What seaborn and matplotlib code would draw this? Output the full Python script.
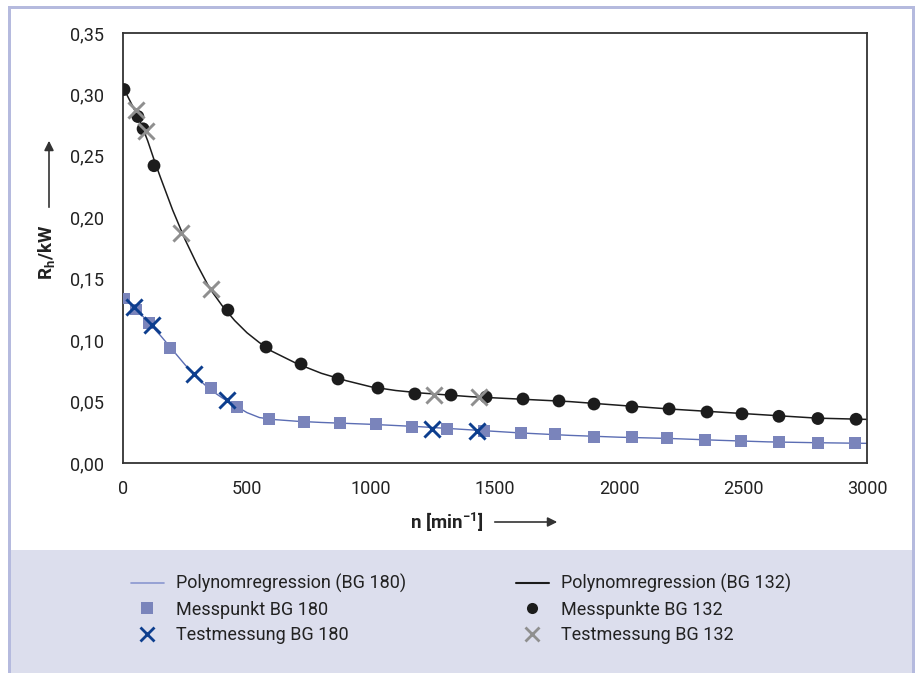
import numpy as np
import pandas as pd
import matplotlib
matplotlib.use("Agg")
import matplotlib.pyplot as plt
from matplotlib.lines import Line2D
from matplotlib.patches import Rectangle, FancyArrowPatch
import seaborn as sns

# Messpunkte BG 132 (n in 1/min, Rh in kW)
n_mess_132 = [4, 60, 81, 125, 423, 577, 718, 867, 1028, 1177, 1323, 1464, 1613,
              1758, 1899, 2052, 2202, 2355, 2496, 2645, 2802, 2956]
rh_mess_132 = [0.304, 0.282, 0.272, 0.242, 0.1245, 0.0944, 0.0806, 0.0684, 0.0610,
               0.0562, 0.0553, 0.0537, 0.0521, 0.0505, 0.0480, 0.0456, 0.0440,
               0.0415, 0.0400, 0.0380, 0.0362, 0.0356]

# Testmessung BG 132
n_test_132 = [52, 93, 234, 355, 1254, 1435]
rh_test_132 = [0.287, 0.270, 0.187, 0.142, 0.0553, 0.0537]

# Messpunkt BG 180
n_mess_180 = [4, 52, 105, 190, 355, 460, 589, 730, 875, 1020, 1165, 1306, 1456,
              1605, 1742, 1899, 2052, 2194, 2347, 2492, 2645, 2802, 2952]
rh_mess_180 = [0.134, 0.125, 0.114, 0.0936, 0.061, 0.0456, 0.0358, 0.0334, 0.0326,
               0.0317, 0.0293, 0.0277, 0.026, 0.0244, 0.0236, 0.0212, 0.0212,
               0.0204, 0.0187, 0.0179, 0.0171, 0.0163, 0.0163]

# Testmessung BG 180
n_test_180 = [44, 117, 286, 419, 1246, 1427]
rh_test_180 = [0.127, 0.112, 0.0724, 0.0513, 0.0277, 0.026]

# Polynomregression
n_reg_132 = [0, 25, 50, 75, 100, 125, 150, 200, 250, 300, 350, 400, 450, 500, 550,
             600, 700, 800, 900, 1000, 1100, 1200, 1300, 1400, 1600, 1800, 2000,
             2200, 2400, 2600, 2800, 3000]
rh_reg_132 = [0.306, 0.296, 0.286, 0.275, 0.262, 0.247, 0.233, 0.206, 0.182, 0.161,
              0.142, 0.128, 0.116, 0.106, 0.098, 0.091, 0.081, 0.073, 0.067, 0.062,
              0.059, 0.057, 0.0555, 0.054, 0.052, 0.050, 0.047, 0.044, 0.0415,
              0.039, 0.0365, 0.0355]

n_reg_180 = [0, 50, 100, 150, 200, 250, 300, 350, 400, 450, 500, 550, 600, 700, 800,
             1000, 1200, 1400, 1600, 1800, 2000, 2200, 2400, 2600, 2800, 3000]
rh_reg_180 = [0.135, 0.126, 0.115, 0.104, 0.092, 0.080, 0.069, 0.060, 0.053, 0.047,
              0.041, 0.037, 0.0355, 0.034, 0.033, 0.0315, 0.0295, 0.027, 0.0245,
              0.0225, 0.021, 0.020, 0.0185, 0.0172, 0.0165, 0.016]

y_ticks = [0.0, 0.05, 0.10, 0.15, 0.20, 0.25, 0.30, 0.35]
x_ticks = [0, 500, 1000, 1500, 2000, 2500, 3000]

c_sq = "#7a84bb"
c_xblue = "#0d3e8e"
c_xgrey = "#8f8f8f"
c_line180 = "#5b6db3"
c_black = "#1c1c1c"
c_frame = "#b5bade"
c_bottom = "#dcdeed"
c_text = "#222222"

sns.set_style("white")
plt.rcParams["font.family"] = ["Roboto", "DejaVu Sans"]
plt.rcParams["mathtext.fontset"] = "custom"
plt.rcParams["mathtext.rm"] = "Roboto"
plt.rcParams["mathtext.bf"] = "Roboto:bold"

fig = plt.figure(figsize=(9.17, 6.73), dpi=100)
W, H = 917, 673

# Hintergrund: Rahmen, weisser Bereich, Legendenfeld
fig.patches.append(Rectangle((0, 0), 1, 1, transform=fig.transFigure,
                             facecolor="white", edgecolor="none", zorder=-3))
fig.patches.append(Rectangle((8 / W, 0), (915 - 8) / W, 1 - 6 / H,
                             transform=fig.transFigure, facecolor=c_frame,
                             edgecolor="none", zorder=-2))
fig.patches.append(Rectangle((11 / W, 1 - 550 / H), (912 - 11) / W, (550 - 9) / H,
                             transform=fig.transFigure, facecolor="white",
                             edgecolor="none", zorder=-1))
fig.patches.append(Rectangle((11 / W, 0), (912 - 11) / W, 1 - 550 / H,
                             transform=fig.transFigure, facecolor=c_bottom,
                             edgecolor="none", zorder=-1))

ax = fig.add_axes([123 / W, 1 - 463 / H, (867 - 123) / W, (463 - 33) / H])
ax.set_facecolor("white")

sns.lineplot(x=n_reg_180, y=rh_reg_180, ax=ax, color=c_line180, linewidth=1.0,
             sort=True, zorder=2)
sns.lineplot(x=n_reg_132, y=rh_reg_132, ax=ax, color=c_black, linewidth=1.1,
             sort=True, zorder=2)
sns.scatterplot(x=n_mess_180, y=rh_mess_180, ax=ax, marker="s", s=66, color=c_sq,
                edgecolor="none", linewidth=0, zorder=3)
sns.scatterplot(x=n_mess_132, y=rh_mess_132, ax=ax, marker="o", s=85, color=c_black,
                edgecolor="none", linewidth=0, zorder=3)
sns.scatterplot(x=n_test_180, y=rh_test_180, ax=ax, marker="x", s=135, color=c_xblue,
                linewidth=2.1, zorder=4)
sns.scatterplot(x=n_test_132, y=rh_test_132, ax=ax, marker="x", s=135, color=c_xgrey,
                linewidth=2.1, zorder=4)

ax.set_xlim(0, 3000)
ax.set_ylim(0, 0.35)
ax.set_xticks(x_ticks)
ax.set_yticks(y_ticks)
ax.set_xticklabels([str(v) for v in x_ticks])
ax.set_yticklabels([f"{v:.2f}".replace(".", ",") for v in y_ticks])
ax.tick_params(axis="both", length=0, labelsize=13, colors=c_text)
ax.tick_params(axis="x", pad=12)
ax.tick_params(axis="y", pad=14)
for sp in ax.spines.values():
    sp.set_color("#333333")
    sp.set_linewidth(1.3)
ax.set_xlabel("")
ax.set_ylabel("")

# Achsentitel mit Pfeilen
fig.text(47 / W, 1 - 252 / H, r"R$_\mathbf{h}$/kW", rotation=90, ha="center",
         va="center", fontsize=13.5, fontweight="bold", color=c_text)
fig.add_artist(FancyArrowPatch(
    (49 / W, 1 - 210 / H), (49 / W, 1 - 138 / H), transform=fig.transFigure,
    arrowstyle="-|>", mutation_scale=14, color="#333333", linewidth=1.2))
fig.text(484 / W, 1 - 522 / H, r"n [min$^{\mathbf{-1}}$]", ha="right", va="center",
         fontsize=13.5, fontweight="bold", color=c_text)
fig.add_artist(FancyArrowPatch(
    (492 / W, 1 - 522 / H), (560 / W, 1 - 522 / H), transform=fig.transFigure,
    arrowstyle="-|>", mutation_scale=14, color="#333333", linewidth=1.2))

# Legende in zwei Spalten
h180 = [
    Line2D([], [], color="#8a97cf", linewidth=1.2),
    Line2D([], [], marker="s", linestyle="none", color=c_sq, markersize=8,
           markeredgewidth=0),
    Line2D([], [], marker="x", linestyle="none", color=c_xblue, markersize=10,
           markeredgewidth=2.0),
]
h132 = [
    Line2D([], [], color=c_black, linewidth=1.5),
    Line2D([], [], marker="o", linestyle="none", color=c_black, markersize=8,
           markeredgewidth=0),
    Line2D([], [], marker="x", linestyle="none", color=c_xgrey, markersize=10,
           markeredgewidth=2.0),
]
l180 = ["Polynomregression (BG 180)", "Messpunkt BG 180", "Testmessung BG 180"]
l132 = ["Polynomregression (BG 132)", "Messpunkte BG 132", "Testmessung BG 132"]
for hs, ls, x0 in [(h180, l180, 122), (h132, l132, 507)]:
    fig.legend(hs, ls, loc="upper left", bbox_to_anchor=(x0 / W, 1 - 565 / H),
               frameon=False, fontsize=13, handlelength=1.8, handletextpad=0.7,
               labelspacing=0.42, borderpad=0, labelcolor=c_text)

fig.savefig("out.png", dpi=100)
